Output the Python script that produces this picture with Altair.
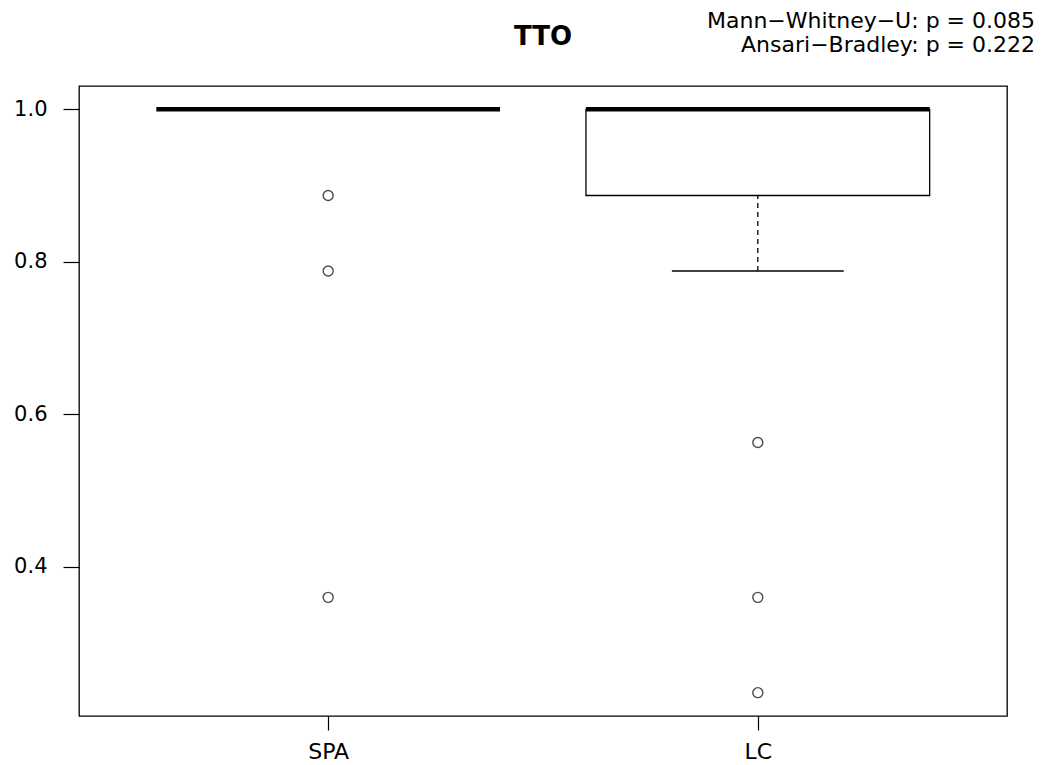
import altair as alt
import pandas as pd

# ---- data ----
groups = ["SPA", "LC"]
lower_whisker = [1.0, 0.788]
q1 = [1.0, 0.887]
median = [1.0, 1.0]
q3 = [1.0, 1.0]
upper_whisker = [1.0, 1.0]
outlier_group = ["SPA", "SPA", "SPA", "LC", "LC", "LC"]
outlier_value = [0.887, 0.788, 0.36, 0.563, 0.36, 0.235]

title_text = "TTO"
test_lines = ["Mann\u2212Whitney\u2212U: p = 0.085", "Ansari\u2212Bradley: p = 0.222"]

FONT = "DejaVu Sans"
pos = {g: i + 1 for i, g in enumerate(groups)}

stats = pd.DataFrame({
    "group": groups,
    "pos": [pos[g] for g in groups],
    "lo": lower_whisker,
    "q1": q1,
    "med": median,
    "q3": q3,
    "hi": upper_whisker,
})
stats["bl"] = stats["pos"] - 0.4
stats["br"] = stats["pos"] + 0.4
stats["cl"] = stats["pos"] - 0.2
stats["cr"] = stats["pos"] + 0.2
stats["has_box"] = stats["q3"] > stats["q1"]

outl = pd.DataFrame({"group": outlier_group, "v": outlier_value})
outl["pos"] = outl["group"].map(pos)

xscale = alt.Scale(domain=[0.42, 2.58], nice=False, zero=False)
yscale = alt.Scale(domain=[0.2044, 1.0306], nice=False, zero=False)

label_expr = "datum.value == 1 ? 'SPA' : (datum.value == 2 ? 'LC' : '')"

xaxis = alt.Axis(values=[1, 2], labelExpr=label_expr, title=None, grid=False,
                 domain=False, tickSize=14, tickColor="black", tickWidth=1.2,
                 labelPadding=11, labelFont=FONT, labelFontSize=22,
                 labelColor="black")
yaxis = alt.Axis(values=[0.4, 0.6, 0.8, 1.0], format=".1f", title=None,
                 grid=False, domain=False, tickSize=16, tickColor="black",
                 tickWidth=1.2, labelPadding=16, labelFont=FONT,
                 labelFontSize=21, labelColor="black")

base = alt.Chart(stats)

box = base.transform_filter("datum.has_box").mark_rect(
    fill="white", stroke="black", strokeWidth=1.3
).encode(
    x=alt.X("bl:Q", scale=xscale, axis=xaxis),
    x2="br:Q",
    y=alt.Y("q1:Q", scale=yscale, axis=yaxis),
    y2="q3:Q",
)

whisker_lo = base.transform_filter("datum.has_box").mark_rule(
    color="black", strokeWidth=1.3, strokeDash=[5, 4]
).encode(x=alt.X("pos:Q", scale=xscale), y=alt.Y("lo:Q", scale=yscale), y2="q1:Q")

cap_lo = base.transform_filter("datum.has_box").mark_rule(
    color="black", strokeWidth=1.3
).encode(x=alt.X("cl:Q", scale=xscale), x2="cr:Q", y=alt.Y("lo:Q", scale=yscale))

med_line = base.mark_rule(color="black", strokeWidth=4.5).encode(
    x=alt.X("bl:Q", scale=xscale), x2="br:Q", y=alt.Y("med:Q", scale=yscale)
)

pts = alt.Chart(outl).mark_point(
    shape="circle", filled=False, color="black", size=100, strokeWidth=1.4
).encode(x=alt.X("pos:Q", scale=xscale), y=alt.Y("v:Q", scale=yscale))

title_df = pd.DataFrame({"t": [title_text]})
title_mark = alt.Chart(title_df).mark_text(
    font=FONT, fontSize=26, fontWeight="bold", color="black",
    align="center", baseline="alphabetic"
).encode(text="t:N", x=alt.value(464), y=alt.value(-41))

tests_df = pd.DataFrame({"t": test_lines, "yy": [-58, -34]})
tests_mark = alt.Chart(tests_df).mark_text(
    font=FONT, fontSize=22, color="black", align="right", baseline="alphabetic"
).encode(text="t:N", x=alt.value(956), y=alt.Y("yy:Q", scale=None))

chart = alt.layer(box, whisker_lo, cap_lo, med_line, pts, title_mark, tests_mark).properties(
    width=928,
    height=630,
    autosize=alt.AutoSizeParams(type="none"),
    padding={"left": 79, "top": 86, "right": 36, "bottom": 49},
    background="white",
).configure_view(stroke="black", strokeWidth=1.3)

chart.save("out.html", embed_options={"renderer": "svg", "actions": False})
